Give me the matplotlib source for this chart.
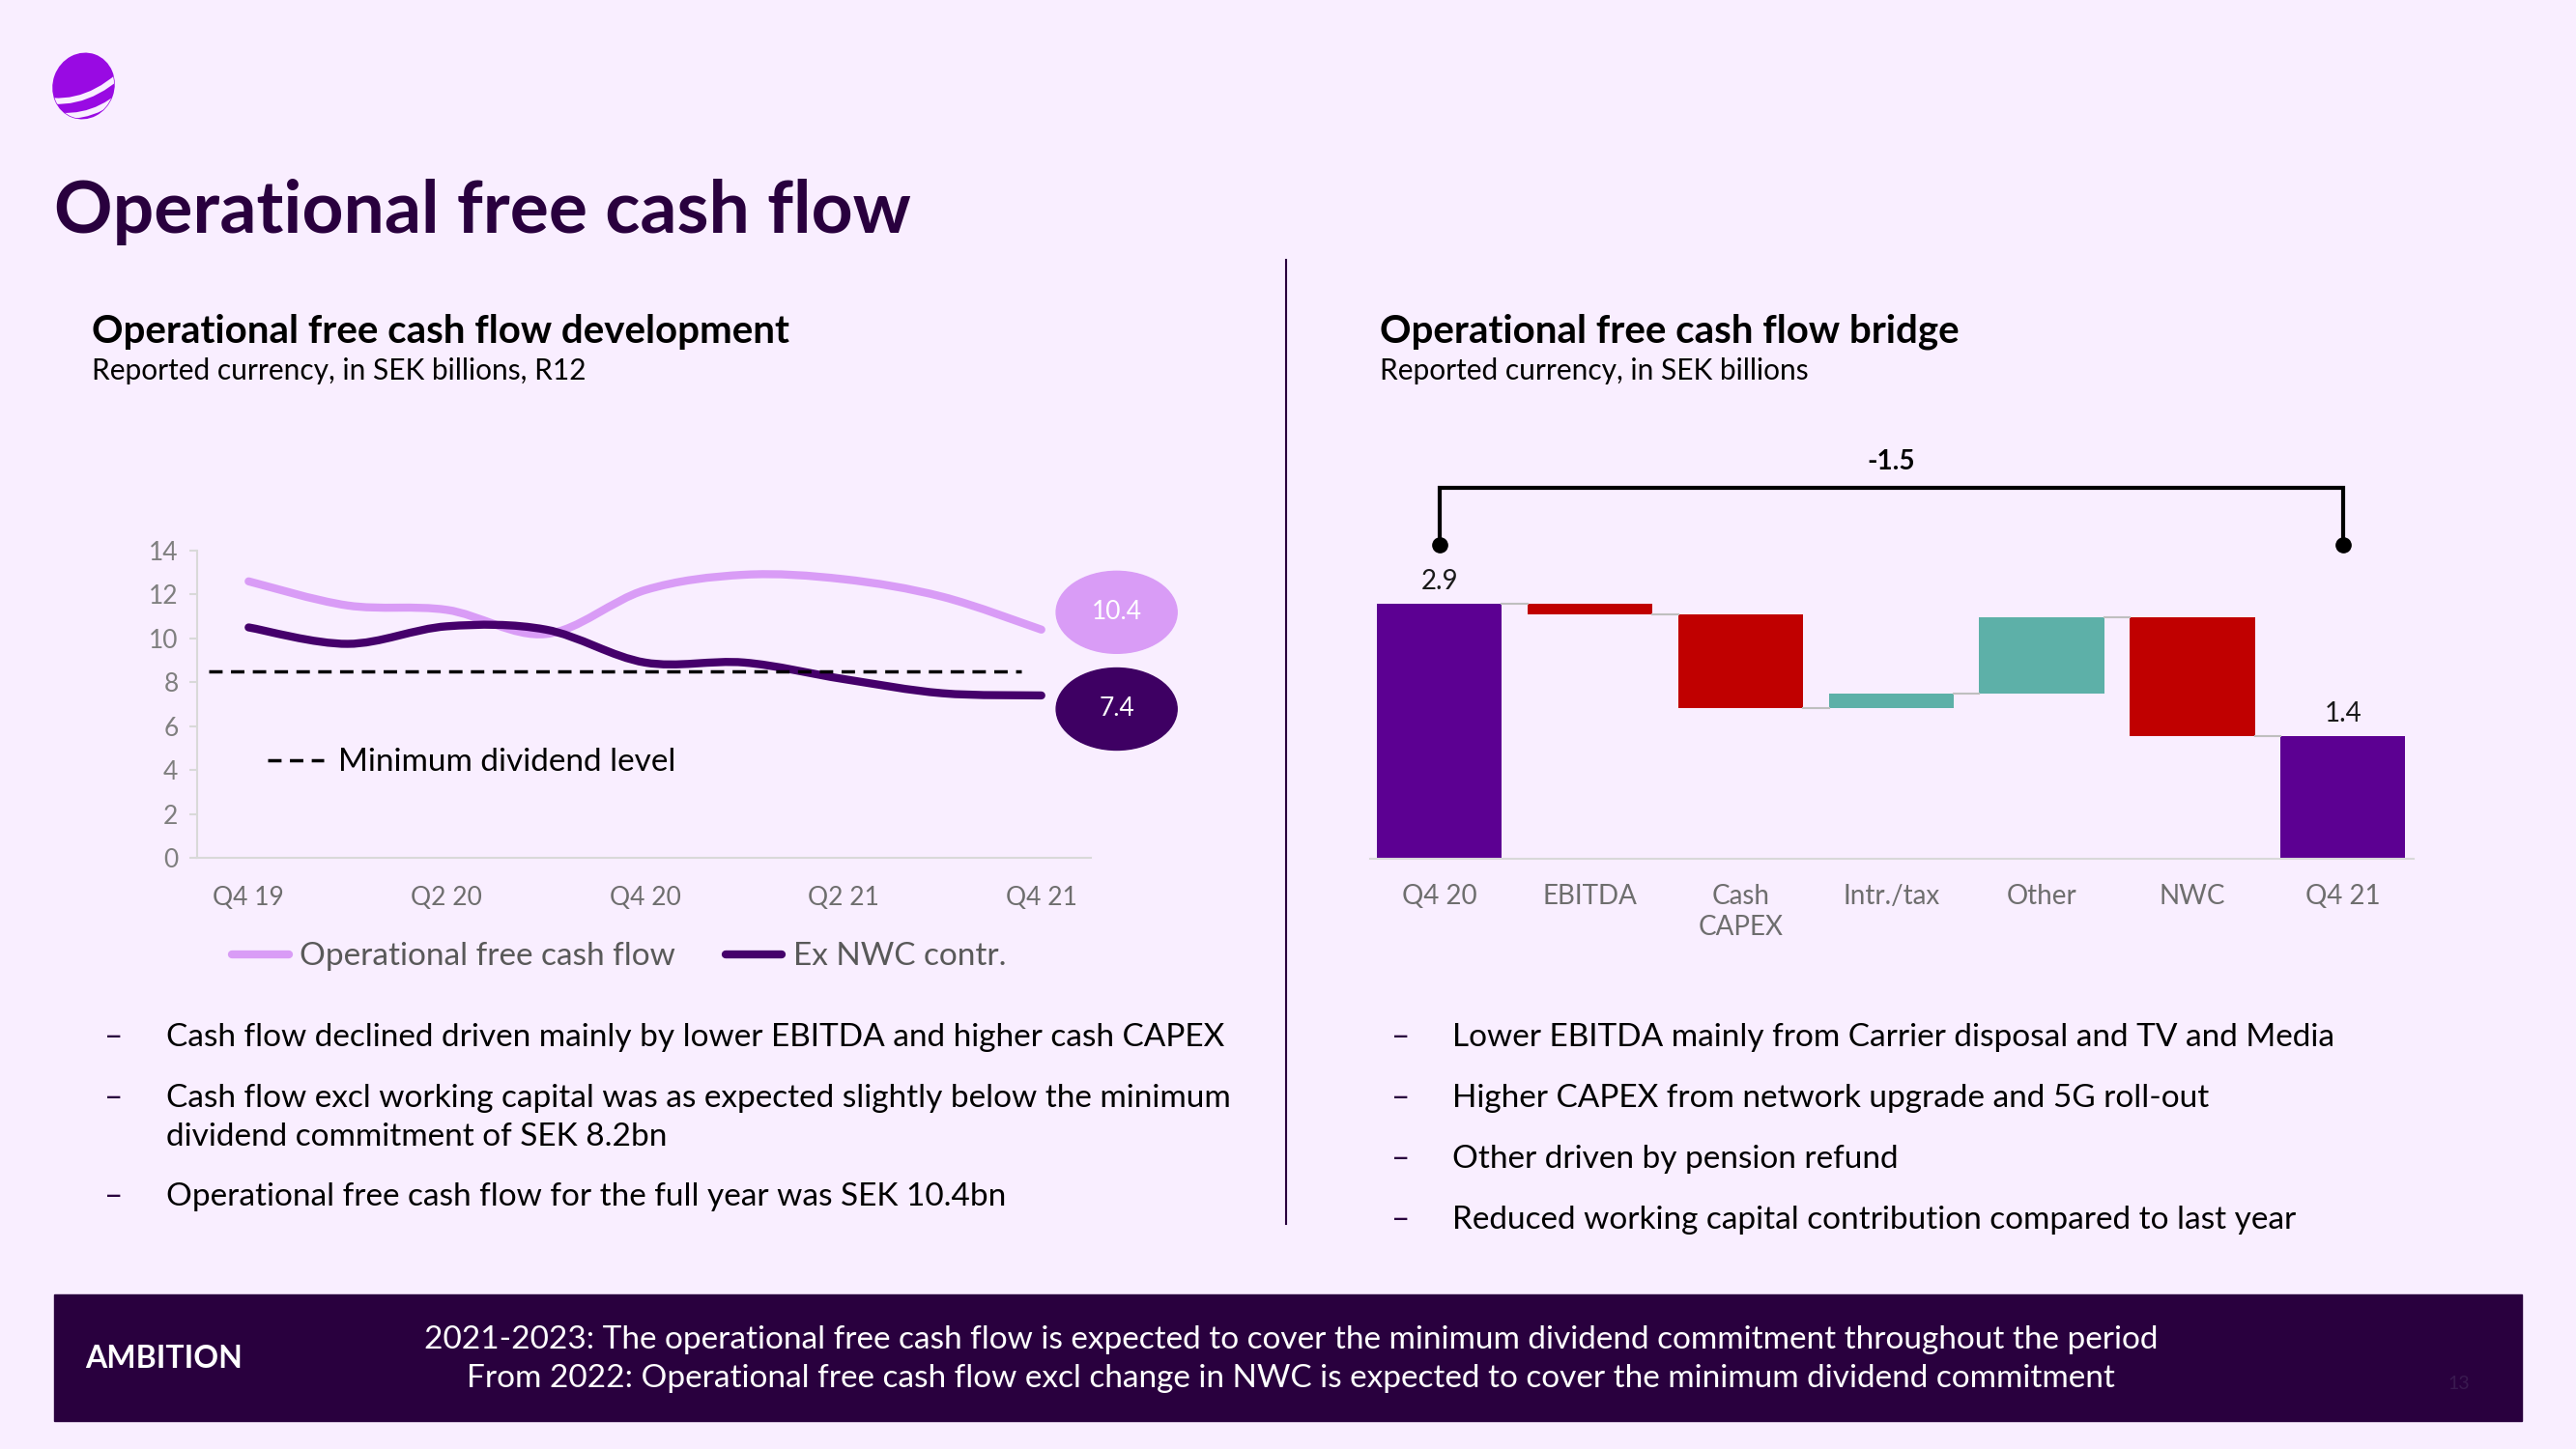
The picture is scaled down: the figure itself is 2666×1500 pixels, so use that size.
import numpy as np
import matplotlib
matplotlib.use("Agg")
import matplotlib.pyplot as plt
from matplotlib.path import Path
from matplotlib.patches import PathPatch, Ellipse, Rectangle
from matplotlib.lines import Line2D

plt.rcParams['font.family'] = ['Lato', 'DejaVu Sans']

# ---- data ----
quarters = ['Q4 19', 'Q1 20', 'Q2 20', 'Q3 20', 'Q4 20', 'Q1 21', 'Q2 21', 'Q3 21', 'Q4 21']
ofcf = [12.6, 11.5, 11.3, 10.2, 12.2, 12.9, 12.7, 11.9, 10.4]
ex_nwc = [10.5, 9.75, 10.55, 10.4, 8.9, 8.9, 8.15, 7.5, 7.4]
min_dividend = 8.5
tick_quarters = ['Q4 19', 'Q2 20', 'Q4 20', 'Q2 21', 'Q4 21']

bridge_labels = ['Q4 20', 'EBITDA', 'Cash\nCAPEX', 'Intr./tax', 'Other', 'NWC', 'Q4 21']
bridge_start = 2.9
bridge_deltas = [-0.12, -1.07, 0.17, 0.87, -1.35]
bridge_change = -1.5

left_bullets = [['Cash flow declined driven mainly by lower EBITDA and higher cash CAPEX'],
                ['Cash flow excl working capital was as expected slightly below the minimum',
                 'dividend commitment of SEK 8.2bn'],
                ['Operational free cash flow for the full year was SEK 10.4bn']]
right_bullets = ['Lower EBITDA mainly from Carrier disposal and TV and Media',
                 'Higher CAPEX from network upgrade and 5G roll-out',
                 'Other driven by pension refund',
                 'Reduced working capital contribution compared to last year']

# ---- colours ----
bg = '#F9EEFF'
dark = '#29003E'
light_line = '#D99CF6'
dark_line = '#45006B'
purple_bar = '#5C0092'
red = '#C00000'
teal = '#5DB0A8'
grey = '#7F7F7F'

W, H = 2666, 1500
def fx(px): return px / W
def fy(py): return 1 - py / H

fig = plt.figure(figsize=(26.66, 15), dpi=100, facecolor=bg)

# ---- logo ----
lax = fig.add_axes([fx(49), fy(126.5), fx(75), 75 / H])
lax.set_xlim(-1.2, 1.2); lax.set_ylim(-1.2, 1.2); lax.axis('off')
body = Ellipse((0, 0), 2.0, 2.18, angle=-20, color='#990AE3')
lax.add_patch(body)
for p0, c, p1 in [((-1.4, -0.45), (0.15, -0.75), (1.5, 0.65)),
                  ((-1.1, -0.95), (0.35, -1.2), (1.5, -0.05))]:
    st = PathPatch(Path([p0, c, p1], [Path.MOVETO, Path.CURVE3, Path.CURVE3]),
                   fill=False, ec=bg, lw=4.5)
    st.set_clip_path(body)
    lax.add_patch(st)

# ---- headings ----
fig.text(fx(56), fy(220), 'Operational free cash flow', fontsize=54, fontweight='bold', color=dark, va='center')
fig.text(fx(95), fy(343), 'Operational free cash flow development', fontsize=29, fontweight='bold', color='black', va='center')
fig.text(fx(95), fy(384), 'Reported currency, in SEK billions, R12', fontsize=21.5, color='black', va='center')
fig.text(fx(1428), fy(343), 'Operational free cash flow bridge', fontsize=29, fontweight='bold', color='black', va='center')
fig.text(fx(1428), fy(384), 'Reported currency, in SEK billions', fontsize=21.5, color='black', va='center')

fig.add_artist(Line2D([fx(1331), fx(1331)], [fy(269), fy(1267)], transform=fig.transFigure, color=dark, lw=1.5))

# ---- left chart ----
ax = fig.add_axes([fx(204), fy(888), fx(1129) - fx(204), 318 / H])
ax.set_facecolor('none')
x = np.arange(len(quarters))


def smooth_path(xs, ys):
    pts = np.column_stack([xs, ys]).astype(float)
    n = len(pts)
    verts = [pts[0]]
    codes = [Path.MOVETO]
    for i in range(n - 1):
        p0 = pts[i - 1] if i > 0 else pts[i]
        p1, p2 = pts[i], pts[i + 1]
        p3 = pts[i + 2] if i + 2 < n else pts[i + 1]
        verts += [p1 + (p2 - p0) / 6, p2 - (p3 - p1) / 6, p2]
        codes += [Path.CURVE4] * 3
    return Path(verts, codes)


ax.add_patch(PathPatch(smooth_path(x, ofcf), fill=False, ec=light_line, lw=6, capstyle='round', zorder=3))
ax.add_patch(PathPatch(smooth_path(x, ex_nwc), fill=False, ec=dark_line, lw=6, capstyle='round', zorder=4))
ax.plot([-0.4, 7.8], [min_dividend, min_dividend], color='black', lw=2.5, ls=(0, (4, 2.5)), zorder=5)

ax.add_patch(Ellipse((8.76, 11.19), 1.22, 3.74, color=light_line, clip_on=False))
ax.add_patch(Ellipse((8.76, 6.78), 1.22, 3.74, color='#3E0063', clip_on=False))
ax.text(8.76, 11.19, f'{ofcf[-1]:.1f}', color='white', fontsize=19, ha='center', va='center')
ax.text(8.76, 6.78, f'{ex_nwc[-1]:.1f}', color='white', fontsize=19, ha='center', va='center')

ax.set_xlim(-0.52, 8.5)
ax.set_ylim(0, 14)
ax.set_yticks(range(0, 15, 2))
ax.set_xticks([quarters.index(q) for q in tick_quarters])
ax.set_xticklabels(tick_quarters)
for s in ['top', 'right']:
    ax.spines[s].set_visible(False)
for s in ['left', 'bottom']:
    ax.spines[s].set_color('#D9D9D9')
    ax.spines[s].set_linewidth(1.5)
ax.tick_params(axis='y', labelsize=19, colors='#D9D9D9', labelcolor=grey, length=6, width=1.5, pad=8)
ax.tick_params(axis='x', labelsize=19, labelcolor='#6E6E6E', length=0, pad=21)

# legend items
fig.add_artist(Line2D([fx(277), fx(335)], [fy(787), fy(787)], transform=fig.transFigure,
                      color='black', lw=2.5, ls=(0, (4, 2.5))))
fig.text(fx(350), fy(789), 'Minimum dividend level', fontsize=24, color='black', va='center')
fig.add_artist(Line2D([fx(240), fx(299)], [fy(988), fy(988)], transform=fig.transFigure,
                      color=light_line, lw=6, solid_capstyle='round'))
fig.text(fx(310), fy(990), 'Operational free cash flow', fontsize=24, color='#595959', va='center')
fig.add_artist(Line2D([fx(751), fx(809)], [fy(988), fy(988)], transform=fig.transFigure,
                      color=dark_line, lw=6, solid_capstyle='round'))
fig.text(fx(821), fy(990), 'Ex NWC contr.', fontsize=24, color='#595959', va='center')

# ---- right chart (bridge) ----
ax2 = fig.add_axes([fx(1418), fy(889), fx(2498) - fx(1418), (889 - 460) / H])
ax2.set_facecolor('none')
bw = 0.83
levels = [bridge_start]
for d in bridge_deltas:
    levels.append(levels[-1] + d)
bridge_end = levels[-1]

ax2.bar(0, bridge_start, width=bw, color=purple_bar)
for i, d in enumerate(bridge_deltas):
    lo = min(levels[i], levels[i + 1])
    ax2.bar(i + 1, abs(d), bottom=lo, width=bw, color=red if d < 0 else teal)
ax2.bar(len(bridge_labels) - 1, bridge_end, width=bw, color=purple_bar)
for i, lv in enumerate(levels):
    ax2.plot([i + bw / 2, i + 1 - bw / 2], [lv, lv], color='#BFBFBF', lw=1.5)

ax2.text(0, bridge_start + 0.25, f'{bridge_start:.1f}', ha='center', va='center', fontsize=20, color='#1A1A1A')
ax2.text(6, bridge_end + 0.25, f'{bridge_end:.1f}', ha='center', va='center', fontsize=20, color='#1A1A1A')

# bracket
ax2.plot([0, 0, 6, 6], [3.57, 4.22, 4.22, 3.57], color='black', lw=3, solid_joinstyle='miter', clip_on=False)
ax2.plot([0, 6], [3.57, 3.57], 'o', color='black', ms=11, clip_on=False)
ax2.text(3, 4.52, f'{bridge_change:.1f}', ha='center', va='center', fontsize=20, fontweight='bold', color='black')

ax2.set_xlim(-0.46, 6.47)
ax2.set_ylim(0, (889 - 460) / 91)
ax2.set_xticks(range(len(bridge_labels)))
ax2.set_xticklabels(bridge_labels, linespacing=1.25)
ax2.set_yticks([])
for s in ['top', 'right', 'left']:
    ax2.spines[s].set_visible(False)
ax2.spines['bottom'].set_color('#D9D9D9')
ax2.spines['bottom'].set_linewidth(1.5)
ax2.tick_params(axis='x', labelsize=20, labelcolor='#6E6E6E', length=0, pad=19)

# ---- bullets ----
left_y = [[1074], [1137, 1177], [1239]]
for ys, lines in zip(left_y, left_bullets):
    fig.text(fx(108), fy(ys[0]), '\u2013', fontsize=24, color=dark, va='center')
    for yy, t in zip(ys, lines):
        fig.text(fx(172), fy(yy), t, fontsize=24, color='black', va='center')
for yy, t in zip([1074, 1137, 1200, 1263], right_bullets):
    fig.text(fx(1440), fy(yy), '\u2013', fontsize=24, color=dark, va='center')
    fig.text(fx(1503), fy(yy), t, fontsize=24, color='black', va='center')

# ---- footer ----
fig.add_artist(Rectangle((fx(56), fy(1471)), fx(2610) - fx(56), (1471 - 1340) / H,
                         transform=fig.transFigure, color=dark, zorder=0))
fig.text(fx(88), fy(1406), 'AMBITION', fontsize=23, fontweight='bold', color='white', va='center')
fig.text(fx(1336), fy(1387), '2021-2023: The operational free cash flow is expected to cover the minimum dividend commitment throughout the period',
         fontsize=24, color='white', ha='center', va='center')
fig.text(fx(1336), fy(1427), 'From 2022: Operational free cash flow excl change in NWC is expected to cover the minimum dividend commitment',
         fontsize=24, color='white', ha='center', va='center')
fig.text(fx(2545), fy(1433), '13', fontsize=14, color='#3A1A50', ha='center', va='center')

fig.savefig('out.png', dpi=100, facecolor=bg)
